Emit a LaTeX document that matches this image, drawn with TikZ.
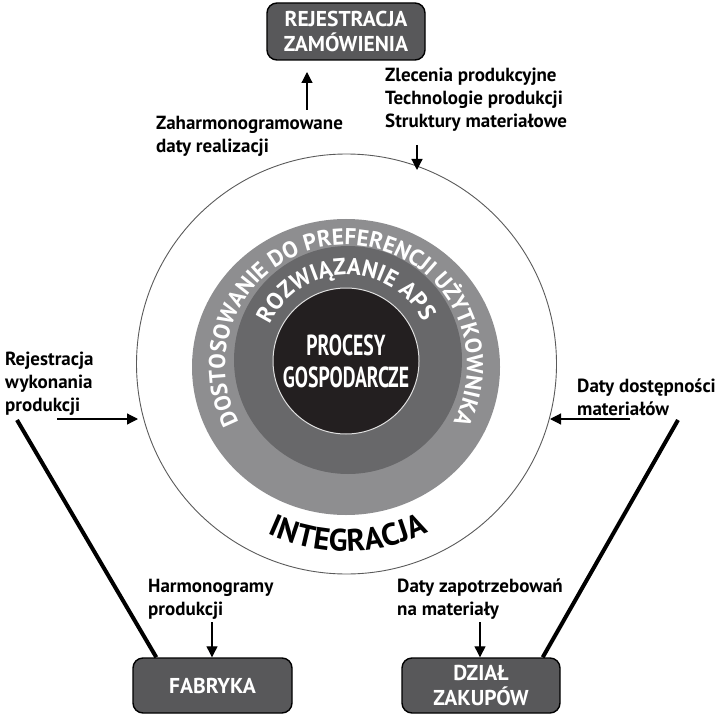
\documentclass[tikz,border=0pt]{standalone}
\usepackage{fontspec}
\setmainfont{PT Sans}
\newfontfamily\condfont{PT Sans}[FakeStretch=0.68]
\usetikzlibrary{arrows.meta,decorations.text,backgrounds}
\definecolor{ringlight}{RGB}{142,142,144}
\definecolor{ringdark}{RGB}{104,104,106}
\definecolor{boxgray}{RGB}{88,88,90}
\definecolor{coreblack}{RGB}{35,31,32}
\definecolor{outline}{RGB}{90,90,90}
\begin{document}
\begin{tikzpicture}[x=1pt,y=1pt,
  labeltext/.style={font=\bfseries\fontsize{19}{23}\selectfont, align=left, anchor=west, inner sep=0pt},
  boxnode/.style={draw=black, line width=1.4pt, fill=boxgray, rounded corners=10pt, text=white, font=\bfseries\fontsize{21.5}{25}\selectfont, align=center, inner sep=0pt},
  flowarrow/.style={line width=1.2pt, -{Triangle[length=11pt,width=11pt]}},
  thickline/.style={line width=4pt}]
\useasboundingbox (0,0) rectangle (719,716);
% circles
\draw[outline, line width=0.9pt] (346.5,352) circle[radius=210pt];
\fill[ringlight] (346,349) ellipse[x radius=154pt, y radius=148pt];
\fill[ringdark] (348,356) circle[radius=114pt];
\node[circle, draw=white!75!gray, line width=1pt, fill=coreblack, minimum size=146pt, inner sep=0pt] (core) at (346,355) {};
\node[text=white, font=\condfont\bfseries\fontsize{29}{32}\selectfont, align=center] (coretext) at (core) {PROCESY\\GOSPODARCZE};
% curved texts
\path[decorate, decoration={text along path, text color=white,
  text={|\bfseries\fontsize{23}{23}\selectfont|DOSTOSOWANIE DO PREFERENCJI UŻYTKOWNIKA},
  text align=center}]
  (346,350) ++(213:121pt) arc[start angle=213, end angle=-33, radius=121pt];
\path[decorate, decoration={text along path, text color=white,
  text={|\bfseries\fontsize{23.5}{23.5}\selectfont|ROZWIĄZANIE APS},
  text align=center}]
  (347,356) ++(164:85pt) arc[start angle=164, end angle=18, radius=85pt];
\path[decorate, decoration={text along path, text color=black,
  text={|\bfseries\fontsize{31}{31}\selectfont|INTEGRACJA},
  text align=center}]
  (346.5,352) ++(230:187pt) arc[start angle=230, end angle=311, radius=187pt];
% labels
\node[labeltext] (lzah) at (156,579.5) {Zaharmonogramowane\\daty realizacji};
\node[labeltext] (lzle) at (385,616) {Zlecenia produkcyjne\\Technologie produkcji\\Struktury materiałowe};
\node[labeltext] (lrej) at (5,332.5) {Rejestracja\\wykonania\\produkcji};
\node[labeltext] (ldat) at (577,318.5) {Daty dostępności\\materiałów};
\node[labeltext] (lhar) at (148,116.5) {Harmonogramy\\produkcji};
\node[labeltext] (lzap) at (397,116.5) {Daty zapotrzebowań\\na materiały};
% boxes
\node[boxnode, minimum width=158pt, minimum height=57pt] (rej) at (346,684.5) {REJESTRACJA\\ZAMÓWIENIA};
\node[boxnode, minimum width=159pt, minimum height=55pt] (fab) at (212.5,30.5) {FABRYKA};
\node[boxnode, minimum width=158pt, minimum height=55pt] (zak) at (481,30.5) {DZIAŁ\\ZAKUPÓW};
% arrows
\coordinate (upS) at (307,606); \coordinate (upE) at (307,644);
\draw[flowarrow] (upS) -- (upE);
\coordinate (dnS) at (417,571); \coordinate (dnE) at (417,546);
\draw[flowarrow] (dnS) -- (dnE);
\coordinate (lS) at (57,297); \coordinate (lE) at (138,297);
\draw[flowarrow] (lS) -- (lE);
\coordinate (rS) at (630,297); \coordinate (rE) at (550,297);
\draw[flowarrow] (rS) -- (rE);
\coordinate (hS) at (212,94);
\draw[flowarrow] (hS) -- (hS |- fab.north);
\coordinate (zS) at (480,94);
\draw[flowarrow] (zS) -- (zS |- zak.north);
% thick lines
\coordinate (tl) at (17,296);
\coordinate (tr) at (678,296);
\begin{scope}[on background layer]
\draw[thickline] (tl) -- ([xshift=24pt]fab.north west);
\draw[thickline] (tr) -- ([xshift=-18pt]zak.north east);
\end{scope}
\end{tikzpicture}
\end{document}
